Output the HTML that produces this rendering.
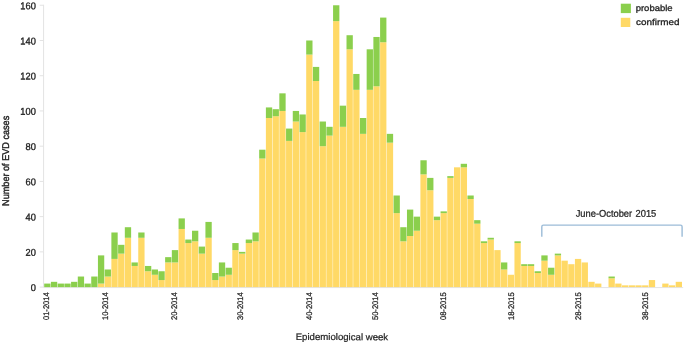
<!DOCTYPE html>
<html><head><meta charset="utf-8"><title>EVD cases by epidemiological week</title>
<style>html,body{margin:0;padding:0;background:#fff}body{width:685px;height:344px;overflow:hidden}</style></head>
<body>
<svg width="685" height="344" viewBox="0 0 685 344" style="display:block" text-rendering="geometricPrecision" font-family='"Liberation Sans", sans-serif' fill="#1e1e1e">
<rect width="685" height="344" fill="#fff"/>
<g stroke="#e3e3e3" stroke-width="1" fill="none">
<line x1="43.6" y1="4.8" x2="43.6" y2="287.5"/>
<line x1="43.6" y1="287.6" x2="683.2" y2="287.6"/>
<line x1="39.7" y1="287.10" x2="43.6" y2="287.10"/>
<line x1="39.7" y1="251.87" x2="43.6" y2="251.87"/>
<line x1="39.7" y1="216.64" x2="43.6" y2="216.64"/>
<line x1="39.7" y1="181.41" x2="43.6" y2="181.41"/>
<line x1="39.7" y1="146.18" x2="43.6" y2="146.18"/>
<line x1="39.7" y1="110.95" x2="43.6" y2="110.95"/>
<line x1="39.7" y1="75.72" x2="43.6" y2="75.72"/>
<line x1="39.7" y1="40.49" x2="43.6" y2="40.49"/>
<line x1="39.7" y1="5.26" x2="43.6" y2="5.26"/>
</g>
<text transform="translate(35.80,291.00) rotate(0.03) scale(0.945,1)" font-size="9.8" text-anchor="end" stroke="#1e1e1e" stroke-width="0.35" style="white-space:pre">0</text>
<text transform="translate(35.80,255.77) rotate(0.03) scale(0.945,1)" font-size="9.8" text-anchor="end" stroke="#1e1e1e" stroke-width="0.35" style="white-space:pre">20</text>
<text transform="translate(35.80,220.54) rotate(0.03) scale(0.945,1)" font-size="9.8" text-anchor="end" stroke="#1e1e1e" stroke-width="0.35" style="white-space:pre">40</text>
<text transform="translate(35.80,185.31) rotate(0.03) scale(0.945,1)" font-size="9.8" text-anchor="end" stroke="#1e1e1e" stroke-width="0.35" style="white-space:pre">60</text>
<text transform="translate(35.80,150.08) rotate(0.03) scale(0.945,1)" font-size="9.8" text-anchor="end" stroke="#1e1e1e" stroke-width="0.35" style="white-space:pre">80</text>
<text transform="translate(35.80,114.85) rotate(0.03) scale(0.945,1)" font-size="9.8" text-anchor="end" stroke="#1e1e1e" stroke-width="0.35" style="white-space:pre">100</text>
<text transform="translate(35.80,79.62) rotate(0.03) scale(0.945,1)" font-size="9.8" text-anchor="end" stroke="#1e1e1e" stroke-width="0.35" style="white-space:pre">120</text>
<text transform="translate(35.80,44.39) rotate(0.03) scale(0.945,1)" font-size="9.8" text-anchor="end" stroke="#1e1e1e" stroke-width="0.35" style="white-space:pre">140</text>
<text transform="translate(35.80,9.16) rotate(0.03) scale(0.945,1)" font-size="9.8" text-anchor="end" stroke="#1e1e1e" stroke-width="0.35" style="white-space:pre">160</text>
<g fill="#ffd966">
<rect x="97.94" y="283.58" width="6.3" height="3.52"/>
<rect x="104.66" y="276.53" width="6.3" height="10.57"/>
<rect x="111.38" y="258.92" width="6.3" height="28.18"/>
<rect x="118.10" y="253.63" width="6.3" height="33.47"/>
<rect x="124.82" y="237.78" width="6.3" height="49.32"/>
<rect x="131.53" y="265.96" width="6.3" height="21.14"/>
<rect x="138.25" y="237.78" width="6.3" height="49.32"/>
<rect x="144.97" y="271.25" width="6.3" height="15.85"/>
<rect x="151.69" y="274.77" width="6.3" height="12.33"/>
<rect x="158.41" y="280.05" width="6.3" height="7.05"/>
<rect x="165.12" y="262.44" width="6.3" height="24.66"/>
<rect x="171.84" y="262.44" width="6.3" height="24.66"/>
<rect x="178.56" y="228.97" width="6.3" height="58.13"/>
<rect x="185.28" y="243.06" width="6.3" height="44.04"/>
<rect x="192.00" y="241.30" width="6.3" height="45.80"/>
<rect x="198.71" y="253.63" width="6.3" height="33.47"/>
<rect x="205.43" y="237.78" width="6.3" height="49.32"/>
<rect x="212.15" y="280.05" width="6.3" height="7.05"/>
<rect x="218.87" y="276.53" width="6.3" height="10.57"/>
<rect x="225.59" y="274.77" width="6.3" height="12.33"/>
<rect x="232.30" y="250.11" width="6.3" height="36.99"/>
<rect x="239.02" y="253.63" width="6.3" height="33.47"/>
<rect x="245.74" y="243.06" width="6.3" height="44.04"/>
<rect x="252.46" y="241.30" width="6.3" height="45.80"/>
<rect x="259.18" y="158.51" width="6.3" height="128.59"/>
<rect x="265.89" y="118.00" width="6.3" height="169.10"/>
<rect x="272.61" y="116.23" width="6.3" height="170.87"/>
<rect x="279.33" y="110.95" width="6.3" height="176.15"/>
<rect x="286.05" y="140.90" width="6.3" height="146.20"/>
<rect x="292.77" y="121.52" width="6.3" height="165.58"/>
<rect x="299.48" y="132.09" width="6.3" height="155.01"/>
<rect x="306.20" y="54.58" width="6.3" height="232.52"/>
<rect x="312.92" y="81.00" width="6.3" height="206.10"/>
<rect x="319.64" y="146.18" width="6.3" height="140.92"/>
<rect x="326.36" y="135.61" width="6.3" height="151.49"/>
<rect x="333.07" y="21.11" width="6.3" height="265.99"/>
<rect x="339.79" y="126.80" width="6.3" height="160.30"/>
<rect x="346.51" y="49.30" width="6.3" height="237.80"/>
<rect x="353.23" y="89.81" width="6.3" height="197.29"/>
<rect x="359.95" y="133.85" width="6.3" height="153.25"/>
<rect x="366.66" y="89.81" width="6.3" height="197.29"/>
<rect x="373.38" y="86.29" width="6.3" height="200.81"/>
<rect x="380.10" y="42.25" width="6.3" height="244.85"/>
<rect x="386.82" y="142.66" width="6.3" height="144.44"/>
<rect x="393.54" y="213.12" width="6.3" height="73.98"/>
<rect x="400.25" y="241.30" width="6.3" height="45.80"/>
<rect x="406.97" y="236.02" width="6.3" height="51.08"/>
<rect x="413.69" y="230.73" width="6.3" height="56.37"/>
<rect x="420.41" y="174.36" width="6.3" height="112.74"/>
<rect x="427.13" y="190.22" width="6.3" height="96.88"/>
<rect x="433.84" y="220.16" width="6.3" height="66.94"/>
<rect x="440.56" y="213.12" width="6.3" height="73.98"/>
<rect x="447.28" y="177.89" width="6.3" height="109.21"/>
<rect x="454.00" y="167.32" width="6.3" height="119.78"/>
<rect x="460.72" y="167.32" width="6.3" height="119.78"/>
<rect x="467.43" y="199.03" width="6.3" height="88.08"/>
<rect x="474.15" y="223.69" width="6.3" height="63.41"/>
<rect x="480.87" y="243.06" width="6.3" height="44.04"/>
<rect x="487.59" y="239.54" width="6.3" height="47.56"/>
<rect x="494.31" y="250.11" width="6.3" height="36.99"/>
<rect x="501.02" y="269.49" width="6.3" height="17.62"/>
<rect x="507.74" y="274.77" width="6.3" height="12.33"/>
<rect x="514.46" y="243.06" width="6.3" height="44.04"/>
<rect x="521.18" y="265.96" width="6.3" height="21.14"/>
<rect x="527.90" y="265.96" width="6.3" height="21.14"/>
<rect x="534.61" y="273.01" width="6.3" height="14.09"/>
<rect x="541.33" y="260.68" width="6.3" height="26.42"/>
<rect x="548.05" y="274.77" width="6.3" height="12.33"/>
<rect x="554.77" y="255.39" width="6.3" height="31.71"/>
<rect x="561.49" y="260.68" width="6.3" height="26.42"/>
<rect x="568.20" y="264.20" width="6.3" height="22.90"/>
<rect x="574.92" y="258.92" width="6.3" height="28.18"/>
<rect x="581.64" y="262.44" width="6.3" height="24.66"/>
<rect x="588.36" y="281.82" width="6.3" height="5.28"/>
<rect x="595.08" y="283.58" width="6.3" height="3.52"/>
<rect x="608.51" y="278.29" width="6.3" height="8.81"/>
<rect x="615.23" y="283.58" width="6.3" height="3.52"/>
<rect x="621.95" y="285.34" width="6.3" height="1.76"/>
<rect x="628.67" y="285.34" width="6.3" height="1.76"/>
<rect x="635.38" y="285.34" width="6.3" height="1.76"/>
<rect x="642.10" y="285.34" width="6.3" height="1.76"/>
<rect x="648.82" y="280.05" width="6.3" height="7.05"/>
<rect x="662.26" y="283.58" width="6.3" height="3.52"/>
<rect x="668.97" y="285.34" width="6.3" height="1.76"/>
<rect x="675.69" y="281.82" width="6.3" height="5.28"/>
</g>
<g fill="#8bcf4d">
<rect x="44.20" y="283.58" width="6.3" height="3.52"/>
<rect x="50.92" y="281.82" width="6.3" height="5.28"/>
<rect x="57.64" y="283.58" width="6.3" height="3.52"/>
<rect x="64.35" y="283.58" width="6.3" height="3.52"/>
<rect x="71.07" y="281.82" width="6.3" height="5.28"/>
<rect x="77.79" y="276.53" width="6.3" height="10.57"/>
<rect x="84.51" y="283.58" width="6.3" height="3.52"/>
<rect x="91.23" y="276.53" width="6.3" height="10.57"/>
<rect x="97.94" y="255.39" width="6.3" height="28.18"/>
<rect x="104.66" y="269.49" width="6.3" height="7.05"/>
<rect x="111.38" y="232.49" width="6.3" height="26.42"/>
<rect x="118.10" y="244.82" width="6.3" height="8.81"/>
<rect x="124.82" y="227.21" width="6.3" height="10.57"/>
<rect x="131.53" y="262.44" width="6.3" height="3.52"/>
<rect x="138.25" y="232.49" width="6.3" height="5.28"/>
<rect x="144.97" y="265.96" width="6.3" height="5.28"/>
<rect x="151.69" y="269.49" width="6.3" height="5.28"/>
<rect x="158.41" y="271.25" width="6.3" height="8.81"/>
<rect x="165.12" y="257.15" width="6.3" height="5.28"/>
<rect x="171.84" y="250.11" width="6.3" height="12.33"/>
<rect x="178.56" y="218.40" width="6.3" height="10.57"/>
<rect x="185.28" y="239.54" width="6.3" height="3.52"/>
<rect x="192.00" y="230.73" width="6.3" height="10.57"/>
<rect x="198.71" y="246.59" width="6.3" height="7.05"/>
<rect x="205.43" y="221.92" width="6.3" height="15.85"/>
<rect x="212.15" y="273.01" width="6.3" height="7.05"/>
<rect x="218.87" y="262.44" width="6.3" height="14.09"/>
<rect x="225.59" y="267.72" width="6.3" height="7.05"/>
<rect x="232.30" y="243.06" width="6.3" height="7.05"/>
<rect x="239.02" y="251.87" width="6.3" height="1.76"/>
<rect x="245.74" y="239.54" width="6.3" height="3.52"/>
<rect x="252.46" y="232.49" width="6.3" height="8.81"/>
<rect x="259.18" y="149.70" width="6.3" height="8.81"/>
<rect x="265.89" y="107.43" width="6.3" height="10.57"/>
<rect x="272.61" y="109.19" width="6.3" height="7.05"/>
<rect x="279.33" y="93.34" width="6.3" height="17.62"/>
<rect x="286.05" y="128.57" width="6.3" height="12.33"/>
<rect x="292.77" y="110.95" width="6.3" height="10.57"/>
<rect x="299.48" y="114.47" width="6.3" height="17.62"/>
<rect x="306.20" y="40.49" width="6.3" height="14.09"/>
<rect x="312.92" y="66.91" width="6.3" height="14.09"/>
<rect x="319.64" y="121.52" width="6.3" height="24.66"/>
<rect x="326.36" y="126.80" width="6.3" height="8.81"/>
<rect x="333.07" y="5.26" width="6.3" height="15.85"/>
<rect x="339.79" y="105.67" width="6.3" height="21.14"/>
<rect x="346.51" y="35.21" width="6.3" height="14.09"/>
<rect x="353.23" y="73.96" width="6.3" height="15.85"/>
<rect x="359.95" y="118.00" width="6.3" height="15.85"/>
<rect x="366.66" y="49.30" width="6.3" height="40.51"/>
<rect x="373.38" y="36.97" width="6.3" height="49.32"/>
<rect x="380.10" y="17.59" width="6.3" height="24.66"/>
<rect x="386.82" y="133.85" width="6.3" height="8.81"/>
<rect x="393.54" y="195.50" width="6.3" height="17.62"/>
<rect x="400.25" y="227.21" width="6.3" height="14.09"/>
<rect x="406.97" y="209.59" width="6.3" height="26.42"/>
<rect x="413.69" y="216.64" width="6.3" height="14.09"/>
<rect x="420.41" y="160.27" width="6.3" height="14.09"/>
<rect x="427.13" y="177.89" width="6.3" height="12.33"/>
<rect x="433.84" y="216.64" width="6.3" height="3.52"/>
<rect x="440.56" y="211.36" width="6.3" height="1.76"/>
<rect x="447.28" y="176.13" width="6.3" height="1.76"/>
<rect x="460.72" y="163.80" width="6.3" height="3.52"/>
<rect x="467.43" y="195.50" width="6.3" height="3.52"/>
<rect x="474.15" y="220.16" width="6.3" height="3.52"/>
<rect x="480.87" y="241.30" width="6.3" height="1.76"/>
<rect x="487.59" y="237.78" width="6.3" height="1.76"/>
<rect x="501.02" y="262.44" width="6.3" height="7.05"/>
<rect x="514.46" y="241.30" width="6.3" height="1.76"/>
<rect x="521.18" y="264.20" width="6.3" height="1.76"/>
<rect x="527.90" y="264.20" width="6.3" height="1.76"/>
<rect x="534.61" y="271.25" width="6.3" height="1.76"/>
<rect x="541.33" y="255.39" width="6.3" height="5.28"/>
<rect x="548.05" y="267.72" width="6.3" height="7.05"/>
<rect x="554.77" y="253.63" width="6.3" height="1.76"/>
<rect x="608.51" y="276.53" width="6.3" height="1.76"/>
</g>
<text transform="translate(49.39,292.30) rotate(-89.97) scale(0.93,1)" font-size="8.13" text-anchor="end" stroke="#1e1e1e" stroke-width="0.25" style="white-space:pre">01-2014</text>
<text transform="translate(108.45,292.30) rotate(-89.97) scale(0.93,1)" font-size="8.13" text-anchor="end" stroke="#1e1e1e" stroke-width="0.25" style="white-space:pre">10-2014</text>
<text transform="translate(177.50,292.30) rotate(-89.97) scale(0.93,1)" font-size="8.13" text-anchor="end" stroke="#1e1e1e" stroke-width="0.25" style="white-space:pre">20-2014</text>
<text transform="translate(243.27,292.30) rotate(-89.97) scale(0.93,1)" font-size="8.13" text-anchor="end" stroke="#1e1e1e" stroke-width="0.25" style="white-space:pre">30-2014</text>
<text transform="translate(312.39,292.30) rotate(-89.97) scale(0.93,1)" font-size="8.13" text-anchor="end" stroke="#1e1e1e" stroke-width="0.25" style="white-space:pre">40-2014</text>
<text transform="translate(378.27,292.30) rotate(-89.97) scale(0.93,1)" font-size="8.13" text-anchor="end" stroke="#1e1e1e" stroke-width="0.25" style="white-space:pre">50-2014</text>
<text transform="translate(446.14,292.30) rotate(-89.97) scale(0.93,1)" font-size="8.13" text-anchor="end" stroke="#1e1e1e" stroke-width="0.25" style="white-space:pre">08-2015</text>
<text transform="translate(514.06,292.30) rotate(-89.97) scale(0.93,1)" font-size="8.13" text-anchor="end" stroke="#1e1e1e" stroke-width="0.25" style="white-space:pre">18-2015</text>
<text transform="translate(580.90,292.30) rotate(-89.97) scale(0.93,1)" font-size="8.13" text-anchor="end" stroke="#1e1e1e" stroke-width="0.25" style="white-space:pre">28-2015</text>
<text transform="translate(648.42,292.30) rotate(-89.97) scale(0.93,1)" font-size="8.13" text-anchor="end" stroke="#1e1e1e" stroke-width="0.25" style="white-space:pre">38-2015</text>
<text transform="translate(295.70,340.10) rotate(0.03) scale(1.012,1)" font-size="9.5" text-anchor="start" stroke="#1e1e1e" stroke-width="0.22" style="white-space:pre">Epidemiological week</text>
<text transform="translate(9.40,205.90) rotate(-89.97) scale(0.93,1)" font-size="9.8" text-anchor="start" stroke="#1e1e1e" stroke-width="0.4" style="white-space:pre">Number of EVD cases</text>
<rect x="620.8" y="3.7" width="10.1" height="9.4" fill="#8bcf4d"/>
<rect x="620.8" y="17.8" width="9.5" height="9.2" fill="#ffd966"/>
<text transform="translate(635.70,11.05) rotate(0.03) scale(1.09,1)" font-size="8.7" text-anchor="start" stroke="#1e1e1e" stroke-width="0.3" style="white-space:pre">probable</text>
<text transform="translate(636.00,25.05) rotate(0.03) scale(1.14,1)" font-size="8.7" text-anchor="start" stroke="#1e1e1e" stroke-width="0.3" style="white-space:pre">confirmed</text>
<path d="M541.8 236.8 V226.7 Q541.8 225.1 543.4 225.1 H680.5 Q682.1 225.1 682.1 226.7 V236.8" fill="none" stroke="#9cbcd8" stroke-width="1.4"/>
<text transform="translate(575.70,216.75) rotate(0.03) scale(0.955,1)" font-size="9.75" text-anchor="start" stroke="#1e1e1e" stroke-width="0.25" style="white-space:pre">June-October <tspan dx="0.9">2015</tspan></text>
</svg>
</body></html>
